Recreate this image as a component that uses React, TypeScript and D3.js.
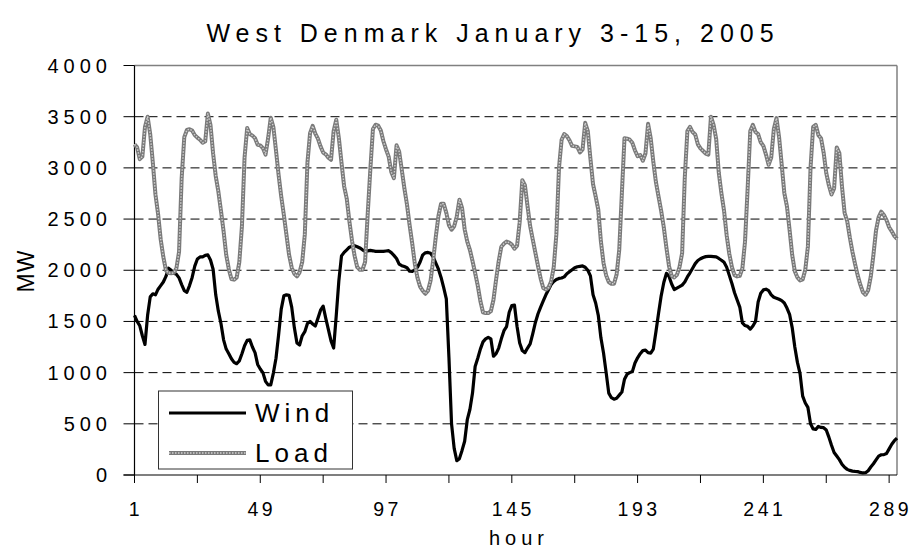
import React from 'react'
import * as d3 from 'd3'

// hourly values, hours 1..292
const wind = [
    1560, 1500, 1460, 1360, 1275, 1560, 1740, 1770, 1760, 1815, 1850, 1885,
    1940, 2020, 2000, 1970, 1960, 1925, 1860, 1800, 1785, 1850, 1930, 2040,
    2110, 2130, 2130, 2145, 2150, 2100, 2010, 1760, 1600, 1480, 1320, 1230,
    1185, 1135, 1100, 1087, 1115, 1185, 1262, 1315, 1320, 1250, 1195, 1080,
    1035, 1000, 915, 880, 880, 996, 1140, 1370, 1620, 1750, 1760, 1755,
    1640, 1440, 1290, 1270, 1360, 1400, 1480, 1500, 1475, 1455, 1530, 1610,
    1650, 1530, 1420, 1310, 1240, 1560, 1900, 2140, 2175, 2200, 2225, 2235,
    2240, 2230, 2218, 2200, 2185, 2190, 2194, 2190, 2185, 2184, 2184, 2184,
    2188, 2191, 2172, 2145, 2115, 2060, 2045, 2036, 2025, 1990, 1989, 2005,
    2030, 2080, 2150, 2170, 2174, 2165, 2130, 2070, 2010, 1930, 1830, 1720,
    1150, 500, 260, 140, 160, 240, 330, 540, 640, 800, 1060, 1140,
    1230, 1300, 1330, 1345, 1330, 1160, 1185, 1240, 1330, 1410, 1450, 1590,
    1655, 1660, 1450, 1290, 1215, 1195, 1240, 1280, 1380, 1490, 1575, 1640,
    1700, 1760, 1810, 1860, 1890, 1910, 1920, 1924, 1935, 1965, 1985, 2005,
    2025, 2034, 2038, 2042, 2030, 2000, 1945, 1760, 1680, 1560, 1340, 1191,
    1000, 800, 755, 740, 750, 780, 810, 935, 985, 1000, 1010, 1094,
    1145, 1185, 1215, 1220, 1195, 1191, 1230, 1400, 1580, 1750, 1880, 1970,
    1940, 1865, 1812, 1826, 1840, 1855, 1885, 1935, 1975, 2020, 2065, 2095,
    2112, 2125, 2133, 2135, 2135, 2133, 2130, 2115, 2098, 2078, 2030, 1950,
    1870, 1780, 1710, 1640, 1485, 1460, 1452, 1425, 1455, 1500, 1690, 1775,
    1808, 1815, 1800, 1760, 1736, 1727, 1717, 1703, 1680, 1631, 1570, 1440,
    1250, 1100, 990, 770, 703, 660, 500, 450, 445, 475, 465, 462,
    440, 370, 290, 220, 185, 150, 105, 75, 55, 45, 38, 35,
    33, 25, 20, 22, 42, 78, 110, 148, 185, 198, 199, 210,
    255, 300, 335, 360,
]

const load = [
    3230, 3200, 3085, 3110, 3400, 3500, 3330, 3050, 2740, 2550, 2300, 2130,
    2000, 1973, 1970, 1975, 2020, 2180, 2900, 3300, 3370, 3378, 3365, 3320,
    3295, 3275, 3245, 3260, 3530, 3420, 3140, 2920, 2770, 2580, 2380, 2150,
    2010, 1915, 1908, 1930, 2080, 2430, 3100, 3390, 3330, 3315, 3290, 3225,
    3220, 3193, 3130, 3290, 3490, 3400, 3170, 2930, 2720, 2540, 2345, 2150,
    2025, 1965, 1940, 1980, 2080, 2350, 3050, 3340, 3410, 3335, 3285, 3210,
    3150, 3132, 3100, 3079, 3360, 3470, 3290, 3050, 2820, 2700, 2480, 2290,
    2140, 2030, 2005, 2005, 2080, 2550, 2982, 3380, 3422, 3412, 3365, 3260,
    3180, 3110, 2960, 2900, 3220, 3160, 2982, 2800, 2640, 2440, 2260, 2060,
    1925, 1840, 1800, 1770, 1800, 1900, 2100, 2330, 2530, 2650, 2650, 2560,
    2440, 2396, 2430, 2526, 2689, 2610, 2400, 2280, 2200, 2090, 1973, 1850,
    1700, 1590, 1582, 1582, 1600, 1712, 1910, 2090, 2230, 2260, 2280, 2270,
    2250, 2210, 2240, 2470, 2880, 2830, 2624, 2430, 2300, 2170, 2040, 1920,
    1826, 1812, 1830, 1890, 2030, 2350, 3000, 3275, 3330, 3310, 3270, 3215,
    3210, 3205, 3150, 3180, 3440, 3360, 3090, 2840, 2720, 2591, 2280, 2070,
    1950, 1885, 1868, 1868, 1960, 2200, 2754, 3290, 3285, 3275, 3245, 3170,
    3115, 3125, 3070, 3140, 3430, 3290, 3060, 2860, 2720, 2580, 2420, 2220,
    2040, 1945, 1930, 1955, 2030, 2168, 2900, 3360, 3400, 3350, 3326, 3230,
    3190, 3165, 3140, 3130, 3500, 3420, 3280, 2949, 2750, 2580, 2340, 2160,
    2030, 1952, 1940, 1945, 2020, 2280, 2800, 3360, 3420, 3350, 3330, 3250,
    3215, 3130, 3030, 3100, 3380, 3486, 3300, 3030, 2754, 2624, 2396, 2150,
    1990, 1930, 1900, 1910, 2005, 2233, 3000, 3400, 3420, 3320, 3290, 3150,
    2950, 2830, 2740, 2800, 3200, 3145, 2819, 2560, 2480, 2320, 2180, 2060,
    1950, 1859, 1785, 1761, 1805, 1940, 2150, 2390, 2520, 2572, 2540, 2490,
    2420, 2380, 2335, 2305,
]

const hours = wind.map((_, i) => i + 1)
const xTicks = d3.range(1, 290, 24)
const xLabels = d3.range(1, 290, 48)
const yTicks = d3.range(0, 4001, 500)

const FONT = 'Liberation Sans, Arial, sans-serif'

const App = () => {
    const width = 914
    const height = 548
    const left = 134.5
    const right = 897
    const top = 65.5
    const bottom = 475

    const x = d3.scaleLinear().domain([1, hours.length]).range([left, right])
    const y = d3.scaleLinear().domain([0, 4000]).range([bottom, top])

    const line = d3.line<number>()
        .x((_, i) => x(hours[i]))
        .y(d => y(d))

    const windPath = line(wind) || ''
    const loadPath = line(load) || ''

    return (
        <svg width={width} height={height} style={{ position: 'absolute', left: 0, top: 0, background: '#fff' }}>
            <text x={493} y={42} textAnchor="middle" fontFamily={FONT} fontSize={25} letterSpacing={6}>
                West Denmark January 3-15, 2005
            </text>

            {/* gridlines */}
            {yTicks.filter(t => t > 0 && t < 4000).map(t => (
                <line key={`g-${t}`} x1={left} x2={right} y1={y(t)} y2={y(t)}
                      stroke="#000" strokeWidth={1} strokeDasharray="9,5" />
            ))}
            {/* frame */}
            <line x1={left} x2={right} y1={top} y2={top} stroke="#808080" strokeWidth={1.5} />
            <line x1={right} x2={right} y1={top} y2={bottom} stroke="#808080" strokeWidth={1.5} />
            <line x1={left} x2={left} y1={top} y2={bottom} stroke="#000" strokeWidth={1.2} />
            <line x1={left - 11} x2={right} y1={bottom} y2={bottom} stroke="#000" strokeWidth={1.2} />

            {/* y axis */}
            {yTicks.map(t => (
                <g key={`y-${t}`}>
                    <line x1={left - 11} x2={left} y1={y(t)} y2={y(t)} stroke="#000" strokeWidth={1} />
                    <text x={112} y={y(t) + 7} textAnchor="end" fontFamily={FONT} fontSize={20} letterSpacing={5}>{t}</text>
                </g>
            ))}
            <text transform="translate(34,271) rotate(-90)" textAnchor="middle" fontFamily={FONT} fontSize={23} letterSpacing={1}>MW</text>

            {/* x axis */}
            {xTicks.map(t => (
                <line key={`xt-${t}`} x1={x(t)} x2={x(t)} y1={bottom} y2={bottom + 8} stroke="#000" strokeWidth={1} />
            ))}
            {xLabels.map(t => (
                <text key={`xl-${t}`} x={x(t) + 1.5} y={516} textAnchor="middle" fontFamily={FONT} fontSize={19.5} letterSpacing={3.5}>{t}</text>
            ))}
            <text x={519} y={545} textAnchor="middle" fontFamily={FONT} fontSize={20} letterSpacing={5}>hour</text>

            {/* series */}
            <path d={windPath} fill="none" stroke="#000" strokeWidth={3.2} strokeLinejoin="round" />
            <path d={loadPath} fill="none" stroke="#7a7a7a" strokeWidth={4} strokeLinejoin="round" />
            <path d={loadPath} fill="none" stroke="#cfcfcf" strokeWidth={1.4} strokeDasharray="1.5,1.5" strokeLinejoin="round" />

            {/* legend */}
            <rect x={158.5} y={391} width={194} height={78} fill="#fff" stroke="#333" strokeWidth={1} />
            <line x1={169} x2={246} y1={413} y2={413} stroke="#000" strokeWidth={3.2} />
            <line x1={169} x2={246} y1={453} y2={453} stroke="#7a7a7a" strokeWidth={4} />
            <line x1={169} x2={246} y1={453} y2={453} stroke="#cfcfcf" strokeWidth={1.4} strokeDasharray="1.5,1.5" />
            <text x={255} y={422} fontFamily={FONT} fontSize={26} letterSpacing={5}>Wind</text>
            <text x={255} y={462} fontFamily={FONT} fontSize={26} letterSpacing={5}>Load</text>
        </svg>
    )
}

export default App
